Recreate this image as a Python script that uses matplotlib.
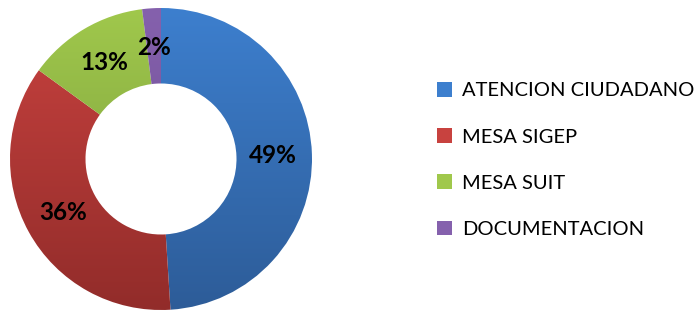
import numpy as np
import matplotlib.pyplot as plt
from matplotlib.colors import LinearSegmentedColormap

labels = ['ATENCION CIUDADANO', 'MESA SIGEP', 'MESA SUIT', 'DOCUMENTACION']
values = [49, 36, 13, 2]
# top / bottom colour of the slight vertical gradient on each slice
tops = ['#3d7fce', '#c8423f', '#a0c84c', '#8561ad']
bottoms = ['#2d5c98', '#922c2a', '#76973a', '#6a4a8e']

W, H = 695, 310
fig = plt.figure(figsize=(W / 100, H / 100), dpi=100)
cx, cy, r = 161, 159, 151
ax = fig.add_axes([(cx - r) / W, (H - cy - r) / H, 2 * r / W, 2 * r / H])

wedges, _ = ax.pie(values, startangle=90, counterclock=False, radius=1,
                   colors=tops, wedgeprops=dict(width=0.5, linewidth=0))

grad = np.linspace(0, 1, 256).reshape(-1, 1)
for w, c1, c2 in zip(wedges, tops, bottoms):
    cmap = LinearSegmentedColormap.from_list('g', [c1, c2])
    im = ax.imshow(grad, cmap=cmap, extent=[-1, 1, -1, 1], aspect='auto',
                   origin='upper', zorder=w.get_zorder())
    im.set_clip_path(w)
    w.set_facecolor('none')

# percentage labels
total = sum(values)
start = 90
for v in values:
    mid = start - 360 * v / total / 2
    start -= 360 * v / total
    rr = 0.74
    x, y = rr * np.cos(np.radians(mid)), rr * np.sin(np.radians(mid))
    ax.text(x, y, f'{v}%', ha='center', va='center', fontsize=17.5,
            fontweight='bold', family='Lato', color='black', zorder=5)

ax.set_xlim(-1, 1)
ax.set_ylim(-1, 1)
ax.set_aspect('equal')
ax.axis('off')

handles = [plt.Rectangle((0, 0), 1, 1, facecolor=c, edgecolor='none') for c in tops]
leg = fig.legend(handles, labels, loc='center left', bbox_to_anchor=(437 / W, 150 / H),
                 frameon=False, prop={'family': 'Lato', 'size': 14.5},
                 borderaxespad=0, borderpad=0,
                 handlelength=0.75, handleheight=0.75, handletextpad=0.5,
                 labelspacing=1.43)

fig.savefig('out.png', dpi=100)
